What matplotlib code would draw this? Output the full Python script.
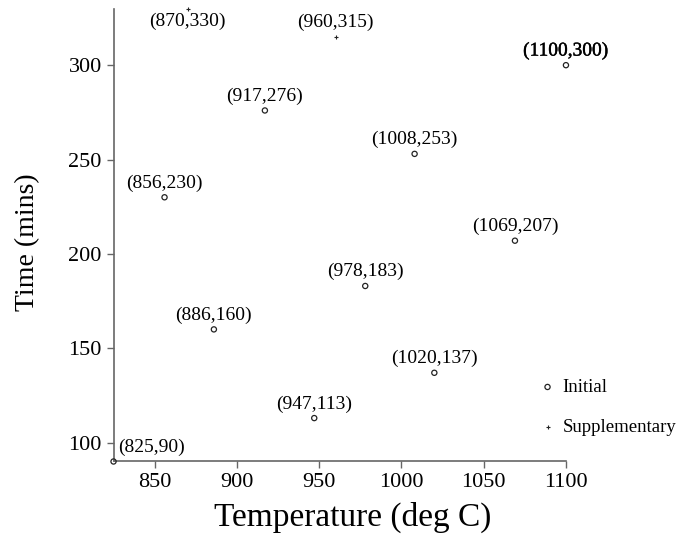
# Temperature vs time scatter with point labels
import matplotlib
matplotlib.use('Agg')
import matplotlib.pyplot as plt
import matplotlib.patheffects as pe

# data
init_temp = [825, 856, 886, 917, 947, 978, 1008, 1020, 1069, 1100]
init_time = [90, 230, 160, 276, 113, 183, 253, 137, 207, 300]
supp_temp = [870, 960]
supp_time = [330, 315]
x_ticks = [850, 900, 950, 1000, 1050, 1100]
y_ticks = [100, 150, 200, 250, 300]

plt.rcParams['font.family'] = ['Liberation Serif', 'DejaVu Serif']

fig = plt.figure(figsize=(6.86, 5.35), dpi=100)
ax = fig.add_axes([0.1655, 0.1374, 0.6595, 0.8466])

ax.scatter(init_temp, init_time, s=14, marker='o', facecolors='none',
           edgecolors='#222222', linewidths=0.9, label='Initial', clip_on=False, zorder=3)
ax.scatter(supp_temp, supp_time, s=12, marker='+', color='#222222',
           linewidths=0.8, label='Supplementary', clip_on=False, zorder=3)

# point labels
for x, y in zip(init_temp, init_time):
    txt = '(%d,%d)' % (x, y)
    if x == 825:
        ax.annotate(txt, (x, y), xytext=(3, 4), textcoords='offset points',
                    ha='left', va='bottom', fontsize=14)
    else:
        t = ax.annotate(txt, (x, y), xytext=(0, 4), textcoords='offset points',
                        ha='center', va='bottom', fontsize=14)
        if x == 1100:
            t.set_path_effects([pe.withStroke(linewidth=0.3, foreground='black')])
for x, y in zip(supp_temp, supp_time):
    txt = '(%d,%d)' % (x, y)
    if y == 330:
        ax.annotate(txt, (x, y), xytext=(0, -3), textcoords='offset points',
                    ha='center', va='top', fontsize=14)
    else:
        ax.annotate(txt, (x, y), xytext=(0, 4), textcoords='offset points',
                    ha='center', va='bottom', fontsize=14)

ax.set_xlim(825, 1100)
ax.set_ylim(90, 330)
ax.set_xticks(x_ticks)
ax.set_yticks(y_ticks)
ax.tick_params(labelsize=16, color='#666666', length=5, width=1)

for s in ['top', 'right']:
    ax.spines[s].set_visible(False)
for s in ['left', 'bottom']:
    ax.spines[s].set_color('#666666')
    ax.spines[s].set_linewidth(1.2)

ax.set_xlabel('Temperature (deg C)', fontsize=24, labelpad=7)
ax.set_ylabel('Time (mins)', fontsize=20, labelpad=20)
ax.xaxis.label.set_x(0.529)
ax.yaxis.label.set_y(0.485)

ax.legend(loc='center left', frameon=False, fontsize=13.5, handlelength=0.6,
          handletextpad=0.5, labelspacing=1.2, borderaxespad=0)
# legend position fixed in figure coords
leg = ax.get_legend()
leg.set_bbox_to_anchor((0.779, 0.239), transform=fig.transFigure)

fig.savefig('out.png', dpi=100)
